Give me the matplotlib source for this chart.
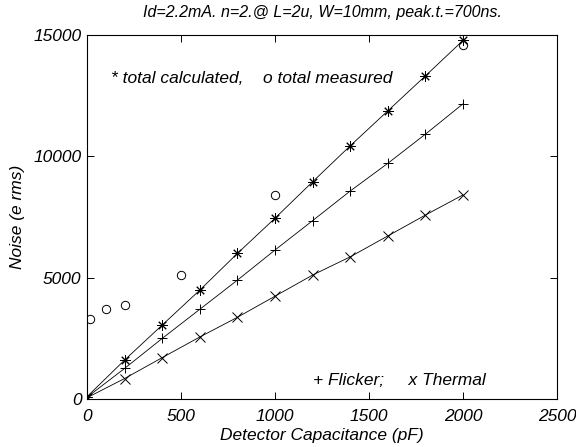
import matplotlib.pyplot as plt
import numpy as np

plt.rcParams['font.family'] = ['Liberation Sans', 'DejaVu Sans']
plt.rcParams['font.style'] = 'italic'
plt.rcParams['font.size'] = 12

# detector capacitance (pF)
cap = [0, 200, 400, 600, 800, 1000, 1200, 1400, 1600, 1800, 2000]
# calculated noise components (e rms)
thermal = [60, 850, 1710, 2560, 3370, 4240, 5110, 5860, 6720, 7580, 8410]
flicker = [80, 1265, 2500, 3700, 4900, 6140, 7350, 8570, 9710, 10910, 12160]
total = [100, 1610, 3050, 4490, 6000, 7450, 8950, 10430, 11870, 13310, 14770]

# measured total noise
meas_cap = [15, 100, 200, 500, 1000, 2000]
meas_noise = [3320, 3700, 3870, 5130, 8400, 14580]

fig = plt.figure(figsize=(5.76, 4.47), dpi=100)
ax = fig.add_axes([0.151, 0.107, 0.816, 0.815])

asterisk = (8, 2, 0)
ax.plot(cap, total, color='k', lw=0.6, marker=asterisk, ms=7.5, mew=0.7)
ax.plot(cap, flicker, color='k', lw=0.6, marker='+', ms=7.5, mew=0.7)
ax.plot(cap, thermal, color='k', lw=0.6, marker='x', ms=7.5, mew=0.7)
ax.plot(meas_cap, meas_noise, ls='none', marker='o', ms=6, mfc='none', mec='k', mew=0.7)

ax.set_xlim(0, 2500)
ax.set_ylim(0, 15000)
ax.set_xticks(np.arange(0, 2501, 500))
ax.set_yticks(np.arange(0, 15001, 5000))
ax.tick_params(direction='in', top=True, right=True, length=5, width=0.7, labelsize=12.5)
ax.tick_params(axis='x', pad=7)
ax.tick_params(axis='y', pad=4)
for s in ax.spines.values():
    s.set_linewidth(0.8)

ax.text(130, 13200, '* total calculated,    o total measured', va='center', ha='left', fontsize=12.5)
ax.text(1200, 750, '+ Flicker;     x Thermal', va='center', ha='left', fontsize=12.5)

ax.set_title('Id=2.2mA. n=2.@ L=2u, W=10mm, peak.t.=700ns.', fontsize=11.5, pad=13)
ax.set_xlabel('Detector Capacitance (pF)', fontsize=12.5, labelpad=3)
ax.set_ylabel('Noise (e rms)', fontsize=12.5, labelpad=6)

fig.savefig('out.png', dpi=100)
